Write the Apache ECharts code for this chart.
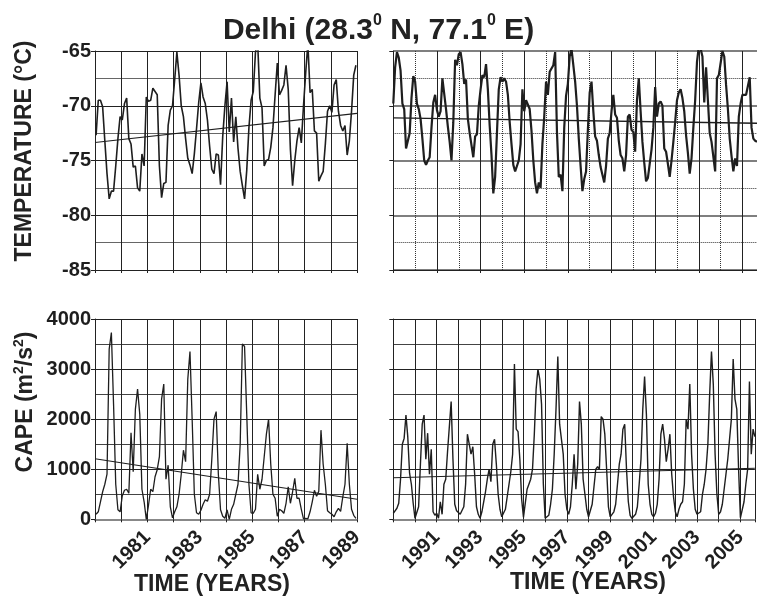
<!DOCTYPE html>
<html>
<head>
<meta charset="utf-8">
<script src="https://cdn.jsdelivr.net/npm/echarts@6.0.0/dist/echarts.min.js"></script>
<style>
  html, body { margin: 0; padding: 0; background: #fff; }
  #chart { width: 757px; height: 599px; }
</style>
</head>
<body>
<div id="chart"></div>
<script>
/* Delhi (28.3 N, 77.1 E) — monthly tropopause temperature and CAPE, two periods */

const FONT = "'Liberation Sans', Arial, Helvetica, sans-serif";

// temperature (°C), monthly, mid-month from Jan 1979
const tempEarly = [
  -72.7, -69.5, -69.5, -70.1, -73.2, -76.2, -78.5, -77.8, -77.8, -75.5, -73.0, -71.0,
  -71.3, -69.8, -69.3, -73.0, -73.5, -75.6, -75.5, -77.5, -77.8, -74.4, -75.5, -69.2,
  -69.6, -69.5, -68.4, -68.7, -69.0, -75.5, -78.4, -77.1, -77.0, -71.8, -70.4, -70.0,
  -67.6, -65.1, -67.2, -70.0, -71.0, -73.0, -74.8, -75.4, -76.2, -74.4, -72.1, -69.7,
  -67.9, -69.2, -69.8, -71.3, -73.7, -75.8, -76.2, -74.4, -74.5, -77.2, -72.8, -70.0,
  -67.8, -72.4, -69.3, -73.3, -71.0, -73.9, -76.0, -77.3, -78.5, -75.9, -72.0, -69.5,
  -68.7, -65.1, -64.2, -69.3, -70.2, -75.5, -75.0, -74.9, -73.8, -72.0, -69.0, -66.1,
  -69.0, -68.6, -68.1, -66.3, -68.5, -74.0, -77.3, -75.0, -73.2, -72.0, -73.4, -70.0,
  -67.0, -64.3, -68.8, -68.5, -72.3, -72.5, -76.9, -76.4, -76.0, -73.5, -70.5, -70.0,
  -70.6, -68.1, -67.6, -70.5, -71.8, -72.3, -71.8, -74.5, -73.2, -70.5, -67.2, -66.3
];

// temperature (°C), monthly from Jan 1989
const tempLate = [
  -69.8, -66.5, -65.1, -65.6, -66.8, -69.8, -70.3, -73.9, -73.8, -72.5, -69.3, -67.3,
  -67.8, -69.8, -70.3, -71.2, -73.0, -75.0, -75.4, -75.0, -74.7, -72.0, -69.7, -69.0,
  -70.4, -71.0, -70.5, -67.5, -67.6, -70.3, -71.9, -73.3, -75.0, -71.5, -65.8, -66.3,
  -65.3, -65.1, -66.2, -68.0, -67.6, -71.2, -72.5, -72.5, -74.7, -72.8, -72.6, -70.0,
  -68.5, -67.2, -67.4, -66.2, -68.5, -71.8, -74.5, -78.0, -76.5, -72.5, -68.5, -67.4,
  -67.8, -67.5, -67.8, -69.0, -71.5, -73.5, -75.4, -76.0, -75.5, -75.0, -73.5, -68.5,
  -70.5, -69.5, -69.6, -70.3, -72.3, -75.0, -77.0, -78.0, -77.0, -77.5, -73.5, -71.0,
  -67.8, -69.0, -66.9, -66.9, -66.3, -65.1, -72.4, -76.5, -76.3, -77.8, -72.0, -69.1,
  -68.0, -65.5, -64.8, -66.3, -67.8, -70.0, -73.0, -75.5, -77.8, -76.7, -76.0, -72.2,
  -68.8, -67.8, -70.5, -72.8, -73.2, -74.5, -75.6, -76.3, -77.0, -75.5, -73.0, -72.5,
  -70.5, -69.0, -70.8, -71.1, -73.2, -74.5, -74.8, -76.0, -74.5, -71.0, -70.8, -72.2,
  -72.4, -74.2, -69.5, -67.5, -70.5, -73.3, -75.2, -76.9, -76.6, -75.3, -74.0, -72.0,
  -68.3, -71.0, -69.8, -69.6, -70.0, -73.9, -74.2, -75.3, -76.5, -75.0, -73.3, -71.5,
  -69.5, -68.8, -68.5, -69.3, -70.5, -72.7, -74.3, -76.2, -74.8, -72.0, -69.5, -66.0,
  -64.6, -64.8, -65.5, -69.7, -66.5, -69.5, -72.5, -73.3, -73.2, -76.0, -67.5, -67.2,
  -67.2, -65.0, -65.5, -68.1, -70.3, -73.0, -74.6, -76.0, -74.8, -75.5, -71.0, -69.8,
  -69.0, -69.0, -69.0, -68.2, -67.4, -72.0, -73.0, -73.2, -73.3
];

// CAPE (m2/s2), monthly, mid-month from Jan 1979
const capeEarly = [
  100, 150, 350, 550, 700, 900, 3400, 3730, 2300, 700, 190, 150,
  470, 580, 600, 520, 1730, 950, 2200, 2600, 2100, 600, 350, 0,
  280, 600, 553, 850, 990, 1250, 2400, 2700, 800, 1080, 250, 30,
  150, 250, 500, 900, 1380, 1150, 2800, 3350, 2000, 500, 130, 100,
  180, 300, 390, 360, 500, 1200, 2000, 2150, 900, 190, 60, 20,
  190, 0, 200, 300, 500, 700, 1500, 3500, 3450, 2100, 700, 130,
  120, 200, 900, 600, 800, 1250, 1700, 2000, 1100, 500, 420, 60,
  200, 170, 120, 320, 650, 320, 550, 820, 420, 420, 200, 10,
  20, 10, 150, 350, 580, 460, 560, 1780, 1100, 700, 170, 130,
  100, 50, 150, 220, 160, 450, 700, 1520, 700, 200, 80, 20
];

// CAPE (m2/s2), monthly from Jan 1989
const capeLate = [
  120, 150, 220, 320, 800, 1500, 1620, 2080, 1650, 920, 700, 320,
  20, 30, 250, 1100, 1900, 2080, 1200, 1720, 900, 1400, 150, 80,
  120, 20, 350, 100, 700, 800, 1350, 1350, 2350, 1200, 300, 170,
  150, 100, 130, 250, 700, 1700, 1700, 1300, 1450, 900, 250, 100,
  20, 150, 350, 550, 800, 1000, 750, 1500, 1600, 1100, 500, 200,
  50, 20, 200, 450, 700, 950, 1300, 3100, 1800, 1750, 1200, 400,
  40, 60, 600, 700, 800, 1000, 1700, 2600, 3000, 2800, 2300, 700,
  20, 20, 80, 300, 600, 1300, 2200, 3250, 1900, 1600, 1300, 500,
  200, 100, 250, 700, 1300, 600, 1100, 2350, 1900, 800, 500, 200,
  50, 80, 300, 650, 1000, 1050, 1000, 2050, 2000, 1700, 1000, 250,
  50, 100, 150, 300, 700, 1100, 1300, 1800, 1900, 1000, 350, 80,
  20, 0, 100, 250, 700, 1200, 2200, 2850, 2100, 700, 300, 100,
  50, 120, 300, 800, 1700, 1900, 1600, 1150, 1400, 1700, 900, 450,
  150, 50, 200, 300, 350, 700, 2000, 1800, 2700, 1300, 600, 200,
  100, 80, 150, 500, 700, 1000, 1500, 2500, 3350, 2700, 1300, 500,
  100, 150, 300, 600, 900, 1200, 1600, 2000, 3200, 2400, 2200, 1000,
  30, 50, 350, 700, 1000, 2750, 1300, 1800, 1650
];

// linear trends, value at start and end of each period
const tempTrendEarly = [-73.35, -70.7];
const tempTrendLate = [-71.1, -71.6];
const capeTrendEarly = [1210, 400];
const capeTrendLate = [830, 1020];

// period limits (years)
const earlyRange = [1979, 1989];
const lateRange = [1989, 2005.667];

const tempTicks = { min: -85, max: -65, step: 5 };
const capeTicks = { min: 0, max: 4000, step: 1000 };

function monthly(values, t0) {
    return values.map((v, i) => [t0 + i / 12, v]);
}

function yearLabel(min) {
    return v => {
        const y = Math.round(v);
        if (Math.abs(v - y) > 1e-6 || y <= min || y % 2 === 0) return "";
        return String(y);
    };
}

const labelFont = { fontSize: 20, fontWeight: "bold", fontFamily: FONT, color: "#1e1e1e" };
const dark = "#222";

function xAxis(grid, range, step, opts) {
    return Object.assign({
        type: "value", gridIndex: grid, min: range[0], max: range[1], interval: step,
        axisLine: { onZero: false, lineStyle: { color: dark, width: 1 } },
        axisTick: { show: true, length: 3, lineStyle: { color: dark } },
        axisLabel: { show: false },
        splitLine: { show: true, lineStyle: { color: dark, width: 1 } },
    }, opts || {});
}

function yAxis(grid, t, opts) {
    return Object.assign({
        type: "value", gridIndex: grid, min: t.min, max: t.max, interval: t.step,
        axisLine: { show: true, onZero: false, lineStyle: { color: dark, width: 1 } },
        axisTick: { show: true, length: 4, lineStyle: { color: dark } },
        axisLabel: Object.assign({ show: true, margin: 4, formatter: v => String(v) }, labelFont),
        splitLine: { show: true, lineStyle: { color: dark, width: 1 } },
        minorTick: { show: false, splitNumber: 2 },
        minorSplitLine: { show: true, lineStyle: { color: "#666", width: 1 } },
    }, opts || {});
}

function line(xi, data, width) {
    return {
        type: "line", xAxisIndex: xi, yAxisIndex: xi, data: data,
        symbol: "none", showSymbol: false, silent: true, clip: true,
        lineStyle: { color: "#1e1e1e", width: width }, z: 5,
    };
}

const bottomAxisLine = { onZero: false, lineStyle: { color: "#888", width: 2 } };
const xLabel = Object.assign({ show: true, rotate: 45, margin: 15, showMaxLabel: true }, labelFont);

const option = {
    animation: false,
    backgroundColor: "#fff",
    title: {
        text: "{a|Delhi (28.3}{s|0}{a| N, 77.1}{s|0}{a| E)}",
        left: "center", top: 8,
        textStyle: {
            rich: {
                a: { fontSize: 30, fontWeight: "bold", fontFamily: FONT, color: dark, lineHeight: 35 },
                s: { fontSize: 16, fontWeight: "bold", fontFamily: FONT, color: dark, lineHeight: 17, verticalAlign: "top" },
            },
        },
    },
    grid: [
        { left: 95, top: 51, width: 262, height: 219 },
        { left: 393.3, top: 51, width: 363.7, height: 219 },
        { left: 95, top: 319, width: 262, height: 200.3 },
        { left: 393.3, top: 319, width: 363.7, height: 200.3 },
    ],
    xAxis: [
        xAxis(0, earlyRange, 1),
        xAxis(1, lateRange, 2, {
            minorTick: { show: false, splitNumber: 2 },
            minorSplitLine: { show: true, lineStyle: { color: "#333", width: 1, type: "dotted" } },
        }),
        xAxis(2, earlyRange, 1, { axisLine: bottomAxisLine, axisLabel: Object.assign({ formatter: yearLabel(earlyRange[0]) }, xLabel) }),
        xAxis(3, lateRange, 1, { axisLine: bottomAxisLine, axisLabel: Object.assign({ formatter: yearLabel(lateRange[0]) }, xLabel) }),
    ],
    yAxis: [
        yAxis(0, tempTicks),
        yAxis(1, tempTicks, {
            axisLabel: { show: false },
            splitLine: { show: true, lineStyle: { color: "#555", width: 1.5 } },
            minorSplitLine: { show: true, lineStyle: { color: "#333", width: 1, type: "dotted" } },
        }),
        yAxis(2, capeTicks, { minorSplitLine: { show: true, lineStyle: { color: "#444", width: 1 } } }),
        yAxis(3, capeTicks, {
            axisLabel: { show: false },
            minorSplitLine: { show: true, lineStyle: { color: "#444", width: 1 } },
        }),
    ],
    series: [
        line(0, monthly(tempEarly, earlyRange[0] + 0.5 / 12), 1.6),
        line(0, [[earlyRange[0], tempTrendEarly[0]], [earlyRange[1], tempTrendEarly[1]]], 1.1),
        line(1, monthly(tempLate, lateRange[0]), 2.2),
        line(1, [[lateRange[0], tempTrendLate[0]], [lateRange[1], tempTrendLate[1]]], 1.3),
        line(2, monthly(capeEarly, earlyRange[0] + 0.5 / 12), 1.3),
        line(2, [[earlyRange[0], capeTrendEarly[0]], [earlyRange[1], capeTrendEarly[1]]], 1.1),
        line(3, monthly(capeLate, lateRange[0]), 1.4),
        line(3, [[lateRange[0], capeTrendLate[0]], [lateRange[1], capeTrendLate[1]]], 1.1),
    ],
    graphic: [
        {
            type: "text", x: 25, y: 151, rotation: Math.PI / 2,
            style: { text: "TEMPERATURE (°C)", font: "bold 23px " + FONT, fill: dark, align: "center", verticalAlign: "middle" },
        },
        {
            type: "text", x: 26, y: 402, rotation: Math.PI / 2,
            style: {
                text: "{a|CAPE (m}{s|2}{a|/s}{s|2}{a|)}", align: "center", verticalAlign: "middle",
                rich: {
                    a: { fontSize: 23, fontWeight: "bold", fontFamily: FONT, fill: dark, lineHeight: 27 },
                    s: { fontSize: 14, fontWeight: "bold", fontFamily: FONT, fill: dark, lineHeight: 14, verticalAlign: "top" },
                },
            },
        },
        {
            type: "text", x: 212, y: 585,
            style: { text: "TIME (YEARS)", font: "bold 23px " + FONT, fill: dark, align: "center", verticalAlign: "middle" },
        },
        {
            type: "text", x: 588, y: 583,
            style: { text: "TIME (YEARS)", font: "bold 23px " + FONT, fill: dark, align: "center", verticalAlign: "middle" },
        },
    ],
};

const chart = echarts.init(document.getElementById("chart"));
chart.setOption(option);
</script>
</body>
</html>
